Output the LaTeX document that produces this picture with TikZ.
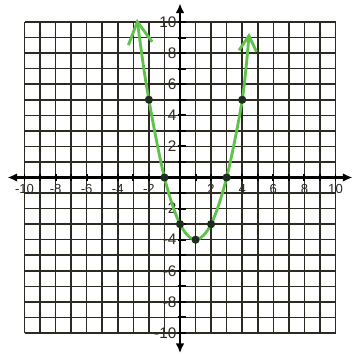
\documentclass[tikz,border=0pt]{standalone}
\usepackage{fontspec}
\setmainfont{Liberation Sans}
\usetikzlibrary{arrows.meta}
\definecolor{gridc}{RGB}{45,42,35}
\definecolor{curvec}{RGB}{95,195,75}
\definecolor{dotc}{RGB}{30,45,30}
\begin{document}
\begin{tikzpicture}[x=0.5cm,y=0.5cm,
  gridline/.style={line width=1.4pt, draw=gridc},
  axisline/.style={line width=2.4pt, draw=black, {Latex[length=9pt,width=8pt]}-{Latex[length=9pt,width=8pt]}},
  tickline/.style={line width=1.8pt, draw=black},
  xlab/.style={font=\fontsize{12}{12}\selectfont, text=gridc, inner sep=0pt},
  ylab/.style={font=\fontsize{14}{14}\selectfont, text=gridc, inner sep=0pt, anchor=east},
  curvestyle/.style={line width=2.6pt, draw=curvec, line cap=round, line join=round},
  dotnode/.style={circle, fill=dotc, inner sep=0pt, minimum size=7.5pt}]
\useasboundingbox (-11.576,-11.415) rectangle (11.125,11.415);
\fill[white] (-11.576,-11.415) rectangle (11.125,11.415);
% grid
\draw[gridline, step=0.5cm] (-10,-10) grid (10,10);
% axes
\coordinate (xl) at (-11.1,0);
\coordinate (xr) at (11.1,0);
\coordinate (yb) at (0,-11.3);
\coordinate (yt) at (0,11.2);
\draw[axisline] (xl) -- (xr);
\draw[axisline] (yb) -- (yt);
% ticks
\foreach \i in {-10,...,10}{
  \draw[tickline] (\i,-0.2) -- (\i,0.2);
  \draw[tickline] (-0.15,\i) -- (0.4,\i);
}
% x labels
\foreach \i in {-10,-8,-6,-4,-2,2,4,6,8,10}{
  \node[xlab] (xlab\i) at (\i,-0.75) {\i};
}
% y labels
\foreach \j in {-10,-8,-6,-4,-2,2,4,6,8,10}{
  \node[ylab] (ylab\j) at (-0.22,\j) {\j};
}
% curve
\draw[curvestyle, {Straight Barb[length=20pt,width=22pt,line width=2.6pt]}-{Straight Barb[length=14pt,width=16pt,line width=2.6pt]}]
  plot[smooth, tension=0.55] coordinates {(-2.77,10.2) (-2,5) (-1,0) (0,-3) (1,-4) (2,-3) (3,0) (4,5) (4.45,9.3)};
% points
\node[dotnode] (p1) at (-2,5) {};
\node[dotnode] (p2) at (-1,0) {};
\node[dotnode] (p3) at (0,-3) {};
\node[dotnode] (p4) at (1,-4) {};
\node[dotnode] (p5) at (2,-3) {};
\node[dotnode] (p6) at (3,0) {};
\node[dotnode] (p7) at (4,5) {};
\end{tikzpicture}
\end{document}
